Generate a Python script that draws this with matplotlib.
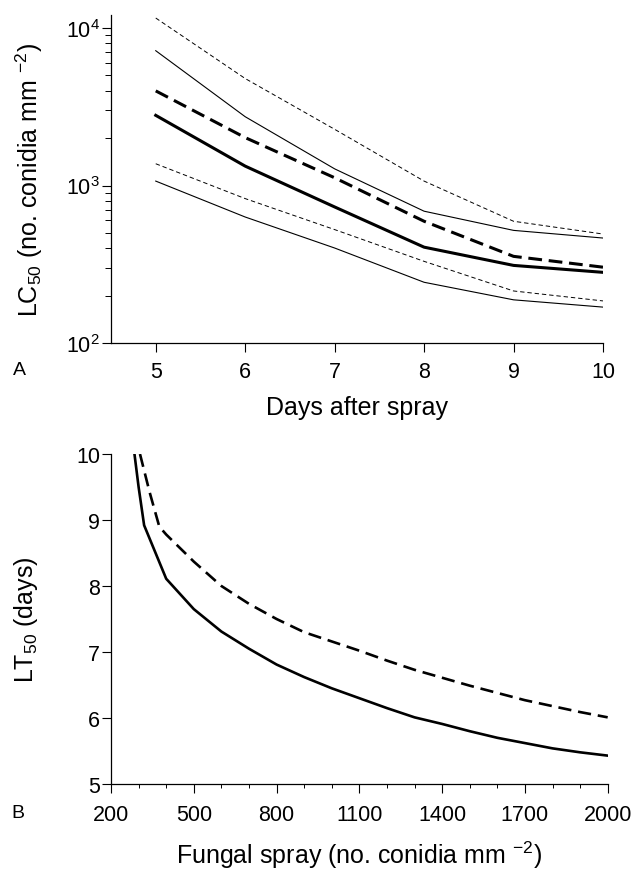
import matplotlib
matplotlib.use("Agg")
import matplotlib.pyplot as plt
from matplotlib.ticker import LogLocator, FixedLocator, MultipleLocator

plt.rcParams['font.family'] = ['Liberation Sans', 'DejaVu Sans']
plt.rcParams['mathtext.fontset'] = 'custom'
plt.rcParams['mathtext.rm'] = 'Liberation Sans'
plt.rcParams['mathtext.it'] = 'Liberation Sans:italic'
plt.rcParams['mathtext.default'] = 'regular'

# panel A: LC50 vs days after spray
days = [5, 6, 7, 8, 9, 10]
lc50_solid = [2790, 1328, 731, 406, 311, 281]
lc50_solid_lo = [1067, 631, 401, 243, 188, 169]
lc50_solid_hi = [7180, 2735, 1276, 687, 519, 464]
lc50_dash = [3990, 2015, 1120, 593, 355, 303]
lc50_dash_lo = [1375, 826, 525, 330, 214, 185]
lc50_dash_hi = [11580, 4780, 2275, 1067, 593, 492]

# panel B: LT50 vs fungal spray
spray_solid = [285, 300, 320, 400, 500, 600, 700, 800, 900, 1000, 1100, 1200,
               1300, 1400, 1500, 1600, 1700, 1800, 1900, 2000]
lt50_solid = [10.0, 9.5, 8.92, 8.11, 7.65, 7.31, 7.05, 6.81, 6.62, 6.45, 6.30,
              6.15, 6.01, 5.91, 5.80, 5.70, 5.62, 5.54, 5.48, 5.43]
spray_dash = [305, 340, 375, 400, 500, 600, 700, 800, 900, 1000, 1100, 1200,
              1300, 1400, 1500, 1600, 1700, 1800, 1900, 2000]
lt50_dash = [10.0, 9.42, 8.9, 8.78, 8.37, 8.0, 7.73, 7.50, 7.30, 7.16, 7.02,
             6.87, 6.73, 6.61, 6.49, 6.38, 6.27, 6.18, 6.09, 6.01]
spray_ticks = [200, 500, 800, 1100, 1400, 1700, 2000]

fig = plt.figure(figsize=(6.34, 8.7), dpi=100)
ax1 = fig.add_axes([0.1751, 0.6046, 0.776, 0.377])
ax2 = fig.add_axes([0.1751, 0.0977, 0.7834, 0.3793])

thin_dash = (0, (4.5, 3))
thick_dash = (0, (4.5, 2.2))

ax1.plot(days, lc50_dash_hi, color='black', lw=0.7, linestyle=thin_dash)
ax1.plot(days, lc50_solid_hi, color='black', lw=0.8)
ax1.plot(days, lc50_dash, color='black', lw=2.2, linestyle=thick_dash)
ax1.plot(days, lc50_solid, color='black', lw=2.2)
ax1.plot(days, lc50_dash_lo, color='black', lw=0.7, linestyle=thin_dash)
ax1.plot(days, lc50_solid_lo, color='black', lw=0.8)

ax1.set_yscale('log')
ax1.set_xlim(4.5, 10)
ax1.set_ylim(100, 12100)
ax1.set_xticks(days)
ax1.yaxis.set_major_locator(FixedLocator([100, 1000, 10000]))
ax1.yaxis.set_minor_locator(LogLocator(base=10, subs=range(2, 10)))
ax1.set_xlabel('Days after spray', fontsize=18, labelpad=9.5)
ax1.set_ylabel('LC$_{50}$ (no. conidia mm $^{-2}$)', fontsize=18, labelpad=15)

ax2.plot(spray_solid, lt50_solid, color='black', lw=1.9)
ax2.plot(spray_dash, lt50_dash, color='black', lw=1.9, linestyle=(0, (5, 2.6)))
ax2.set_xlim(200, 2000)
ax2.set_ylim(5, 10)
ax2.xaxis.set_major_locator(FixedLocator(spray_ticks))
ax2.xaxis.set_minor_locator(MultipleLocator(100))
ax2.yaxis.set_major_locator(MultipleLocator(1))
ax2.set_xlabel('Fungal spray (no. conidia mm $^{-2}$)', fontsize=18, labelpad=10)
ax2.set_ylabel('LT$_{50}$ (days)', fontsize=18, labelpad=26)

for ax in (ax1, ax2):
    ax.spines['top'].set_visible(False)
    ax.spines['right'].set_visible(False)
    ax.spines['left'].set_linewidth(0.9)
    ax.spines['bottom'].set_linewidth(0.9)
    ax.tick_params(which='major', direction='out', length=6.5, width=0.8,
                   labelsize=15.5)
    ax.tick_params(which='minor', direction='out', length=4, width=0.7)
    ax.tick_params(axis='y', pad=1.5)

ax1.tick_params(axis='x', pad=6.5)
ax2.tick_params(axis='x', pad=8)
ax2.tick_params(axis='x', which='minor', length=3)

fig.text(0.030, 0.574, 'A', fontsize=14, ha='center', va='center')
fig.text(0.028, 0.0655, 'B', fontsize=14, ha='center', va='center')

fig.savefig('out.png', dpi=100)
